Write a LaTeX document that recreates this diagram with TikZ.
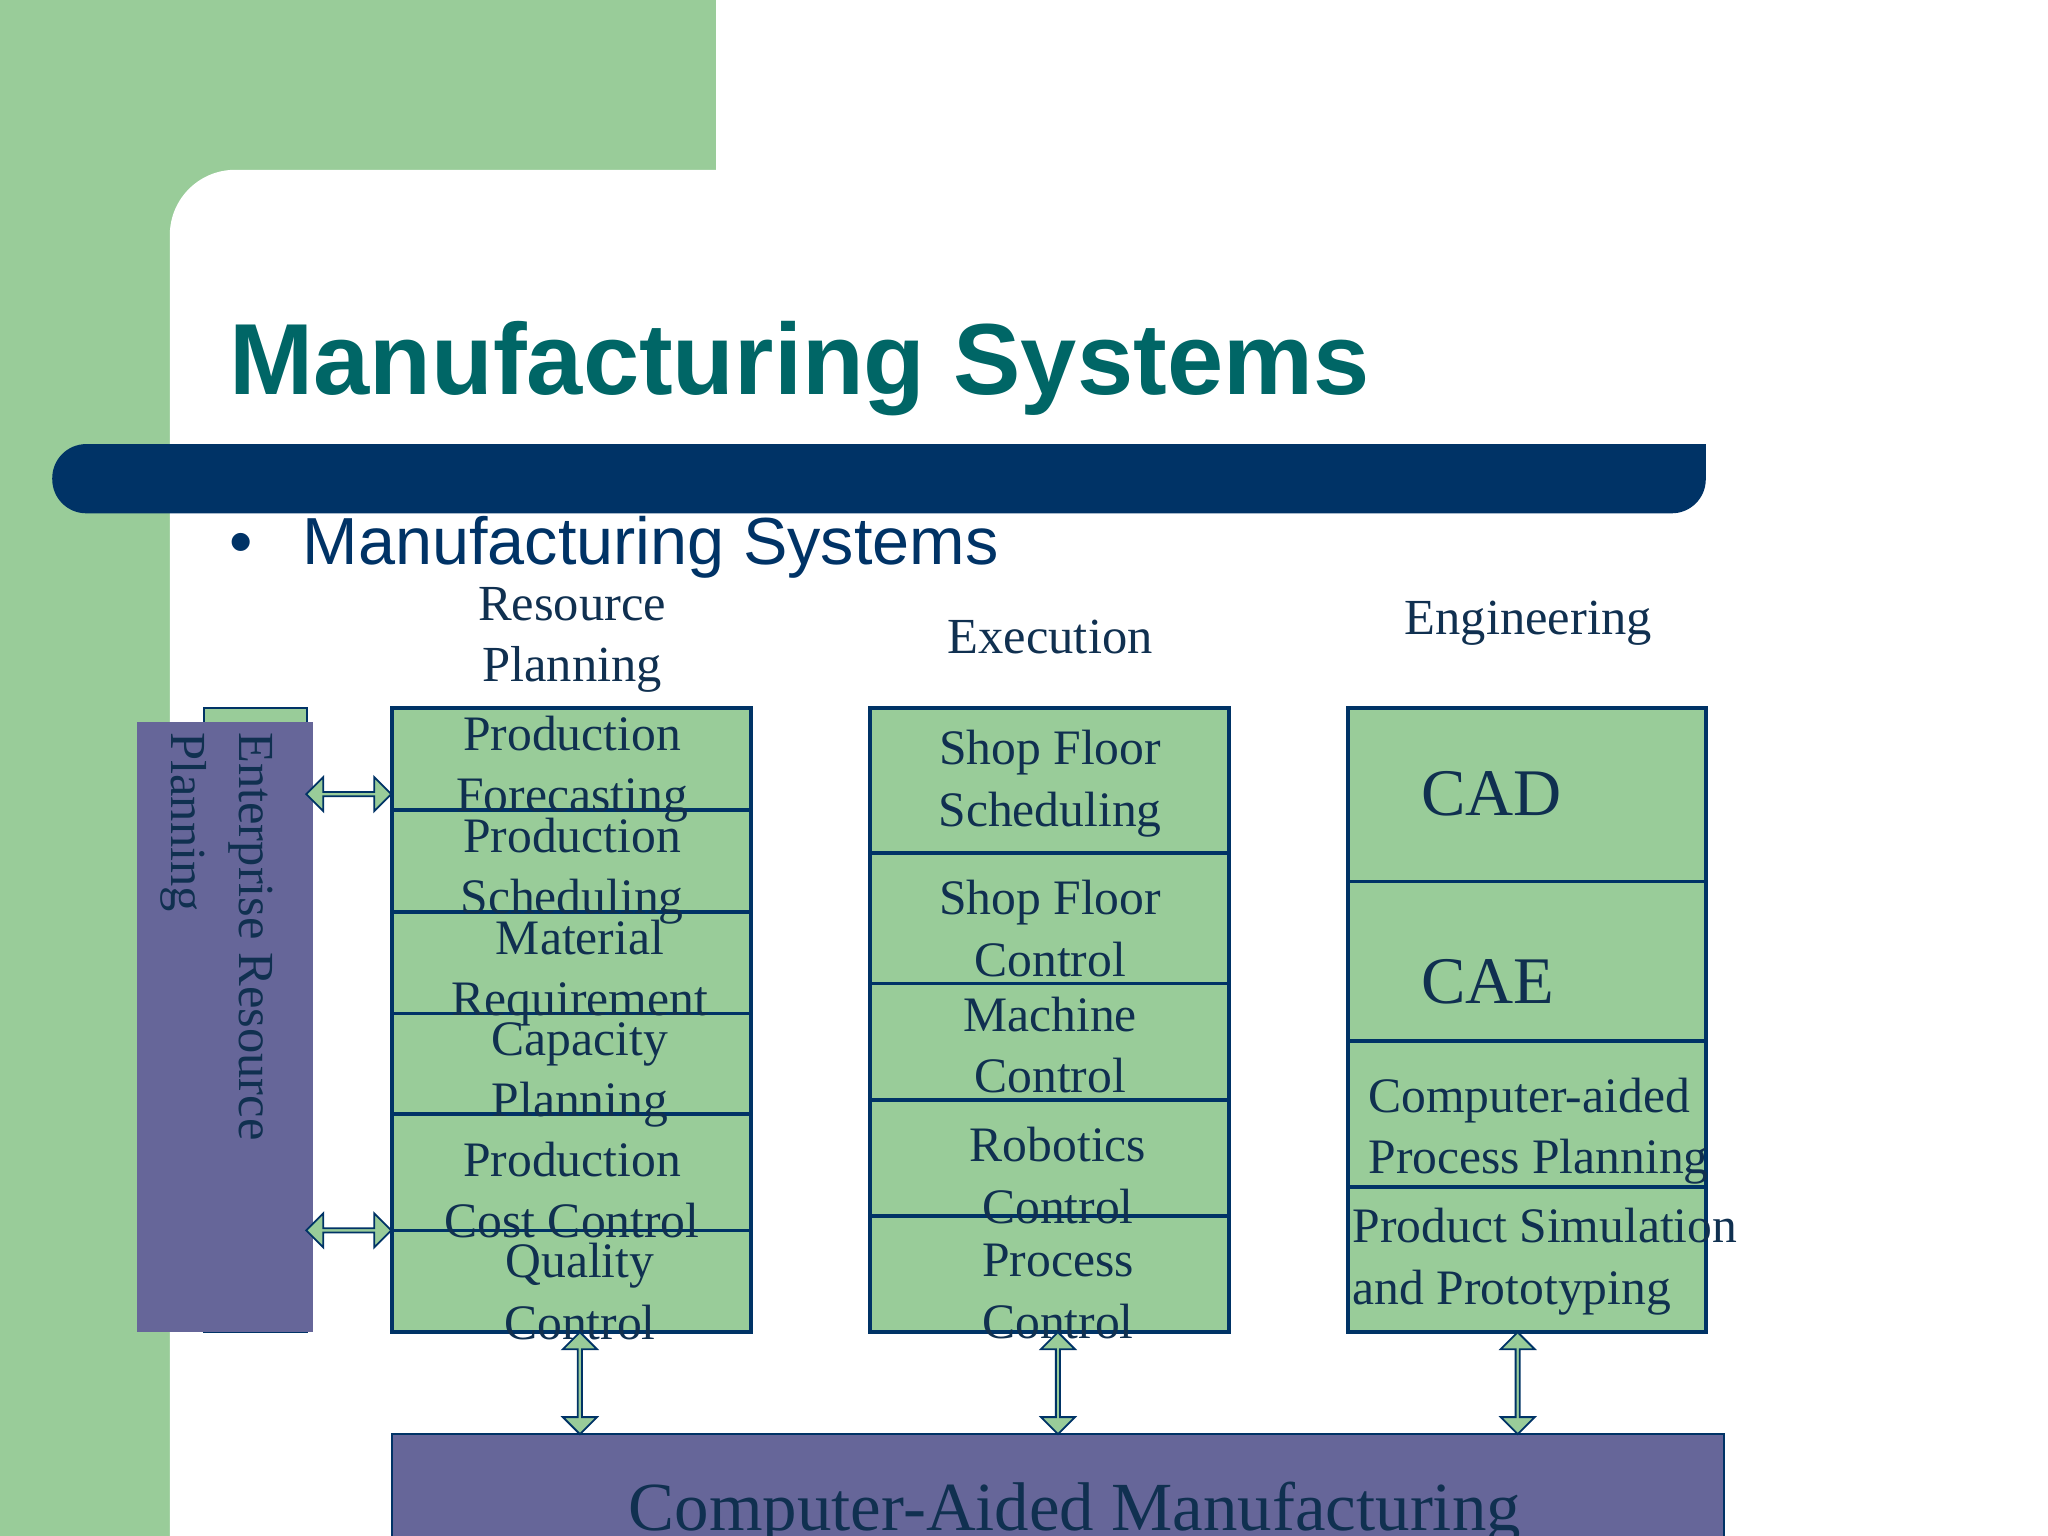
\documentclass[tikz,border=0pt]{standalone}
\usepackage{fontspec}
\setmainfont{Liberation Serif}
\newfontfamily\titlefont{Liberation Sans}
\usetikzlibrary{shapes.arrows, positioning}
\definecolor{slidegreen}{RGB}{153,204,153}
\definecolor{slidenavy}{RGB}{0,51,102}
\definecolor{slideteal}{RGB}{0,102,102}
\definecolor{slidepurple}{RGB}{102,102,153}
\definecolor{boxtext}{RGB}{16,48,80}

\begin{document}
\begin{tikzpicture}[x=0.01cm, y=-0.01cm,
  cell/.style={draw=slidenavy, fill=slidegreen, thick},
  label/.style={text=boxtext, font=\fontsize{10.8}{13.4}\selectfont, align=center, inner sep=0pt},
  harrow/.style={double arrow, draw=slidenavy, fill=slidegreen, minimum height=0.65cm, minimum width=0.26cm, double arrow head extend=0.05cm, double arrow head indent=0cm, inner sep=0pt},
  varrow/.style={harrow, rotate=90, minimum height=0.78cm}]
  \useasboundingbox (0,0) rectangle (1568,1176);
  % background
  \begin{scope}
    \clip (0,0) rectangle (1568,1176);
    \fill[slidegreen] (0,0) rectangle (548,1176);
    \fill[white, rounded corners=0.5cm] (130,130) rectangle (1700,1300);
  \end{scope}

  % title and bar
  \node[anchor=base west, text=slideteal, font=\titlefont\bfseries\fontsize{22}{26}\selectfont, inner sep=0pt] (title) at (175,302) {Manufacturing Systems};
  \fill[slidenavy, rounded corners=0.26cm] (1306,340) -- (40,340) -- (40,393) -- (1306,393) [sharp corners] -- cycle;
  \node[anchor=base west, text=slidenavy, font=\titlefont\fontsize{14.5}{17}\selectfont, inner sep=0pt] (bullet) at (175,432) {\textbullet\hspace{0.75em}Manufacturing Systems};

  % column headers
  \node[label, font=\fontsize{11}{13.4}\selectfont] (hres) at (438,490) {Resource\\Planning};
  \node[label, font=\fontsize{11}{13.4}\selectfont] (hexe) at (804,488) {Execution};
  \node[label, font=\fontsize{11}{13.4}\selectfont] (heng) at (1170,477) {Engineering};

  % ERP bar
  \fill[slidegreen, draw=slidenavy] (156,542) rectangle (235,1020);
  \fill[slidepurple] (105,553) rectangle (240,1020);
  \node[label, rotate=-90, anchor=north west, align=left, font=\fontsize{11}{15}\selectfont] (erp) at (210,560) {Enterprise Resource\\Planning};

  % resource planning column
  \foreach \ya/\yb in {542/620, 620/698, 698/776, 776/853, 853/942, 942/1020}
    \draw[cell] (300,\ya) rectangle (575,\yb);
  \node[label] (pf) at (438,589) {Production\\Forecasting};
  \node[label] (ps) at (438,667) {Production\\Scheduling};
  \node[label] (mr) at (444,745) {Material\\Requirement};
  \node[label] (cp) at (444,823) {Capacity\\Planning};
  \node[label] (pc) at (438,911) {Production\\Cost Control};
  \node[label] (qc) at (444,989) {Quality\\Control};

  % execution column
  \foreach \ya/\yb in {542/653, 653/753, 753/842, 842/931, 931/1020}
    \draw[cell] (666,\ya) rectangle (941,\yb);
  \node[label] (sfs) at (804,600) {Shop Floor\\Scheduling};
  \node[label] (sfc) at (804,711) {Shop Floor\\Control};
  \node[label] (mc) at (804,800) {Machine\\Control};
  \node[label] (rc) at (810,900) {Robotics\\Control};
  \node[label] (prc) at (810,989) {Process\\Control};

  % engineering column
  \foreach \ya/\yb in {542/675, 675/797, 797/909, 909/1020}
    \draw[cell] (1032,\ya) rectangle (1306,\yb);
  \node[label, font=\fontsize{14.5}{17}\selectfont] (cad) at (1142,608) {CAD};
  \node[label, font=\fontsize{14.5}{17}\selectfont] (cae) at (1139,752) {CAE};
  \node[label, anchor=west, align=left] (capp) at (1047,866) {Computer-aided\\Process Planning};
  \node[label, anchor=west, align=left] (psp) at (1035,966) {Product Simulation\\and Prototyping};

  % CAM bar
  \fill[slidepurple, draw=slidenavy] (300,1098) rectangle (1320,1190);
  \node[label, font=\fontsize{15}{18}\selectfont, anchor=base] (cam) at (823,1172) {Computer-Aided Manufacturing};

  % arrows
  \node[harrow] (a1) at (267,608) {};
  \node[harrow] (a2) at (267,942) {};
  \node[varrow] (a3) at (444,1059) {};
  \node[varrow] (a4) at (810,1059) {};
  \node[varrow] (a5) at (1162,1059) {};
\end{tikzpicture}
\end{document}
